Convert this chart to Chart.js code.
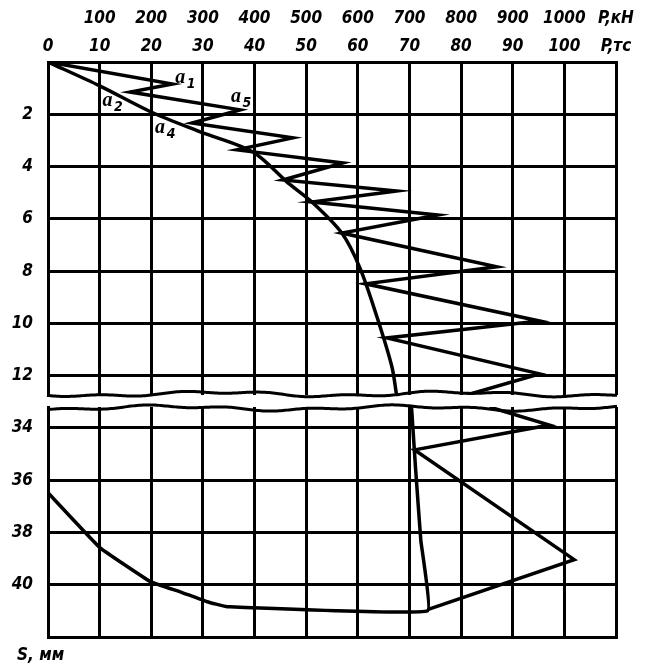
<!DOCTYPE html>
<html>
<head>
<meta charset="utf-8">
<script src="https://cdn.jsdelivr.net/npm/chart.js@4.4.0/dist/chart.umd.min.js"></script>
<style>
  body { margin: 0; background: #fff; width: 652px; height: 672px; position: relative; overflow: hidden; }
  #upper { position: absolute; left: 0; top: 0; }
  #lower { position: absolute; left: 0; top: 400px; }
  .axis-name { position: absolute; font: italic bold 17px 'Liberation Sans Narrow', 'DejaVu Sans Condensed', sans-serif; color: #000; }
</style>
</head>
<body>
<canvas id="upper" width="652" height="400"></canvas>
<canvas id="lower" width="652" height="272"></canvas>
<div class="axis-name" style="left:17px; top:644px;">S, мм</div>

<script>
// top axis: load in тс (kN row is 10x)
const xTicks = [0, 10, 20, 30, 40, 50, 60, 70, 80, 90, 100, 110];
const kNLabels = ['', '100', '200', '300', '400', '500', '600', '700', '800', '900', '1000', 'P,кН'];
const tcLabels = ['0', '10', '20', '30', '40', '50', '60', '70', '80', '90', '100', 'P,тс'];

// S, mm
const upperTicks = [0, 2, 4, 6, 8, 10, 12];
const lowerTicks = [34, 36, 38, 40, 42];

// loading zigzag, upper part
const zigUpperP = [0, 24.1, 15.9, 37.2, 27.9, 47.4, 36.6, 57.1, 45.5, 67.5, 51.1, 75.5, 56.9, 86.9, 61.5, 95.2, 65.6, 95.2, 81.1];
const zigUpperS = [0, 0.84, 1.15, 1.83, 2.33, 2.90, 3.36, 3.86, 4.51, 4.93, 5.35, 5.85, 6.54, 7.83, 8.48, 9.90, 10.55, 11.92, 12.73];
// envelope curve, upper part
const envUpperP = [0, 10.1, 20.4, 29.5, 39.7, 46.3, 51.1, 56.9, 60.4, 63.7, 66.6, 67.5];
const envUpperS = [0, 0.92, 1.95, 2.67, 3.44, 4.59, 5.35, 6.54, 7.87, 9.74, 11.65, 12.73];

// lower part (after the break)
const zigLowerP = [85.5, 97.1, 71.0, 101.9, 73.5];
const zigLowerS = [33.2, 33.89, 34.84, 39.04, 40.95];
const envLowerP = [70.4, 71.2, 72.2, 73.5, 34.7, 30.8, 25.6, 19.8, 10.1, 0];
const envLowerS = [33.2, 35.6, 38.3, 41.0, 40.84, 40.65, 40.27, 39.88, 38.59, 36.48];

// curve marks a1, a5, a2, a4 (P, S)
const markNames = ['1', '5', '2', '4'];
const markP = [25.6, 36.4, 11.5, 21.7];
const markS = [0.61, 1.34, 1.49, 2.52];

const FONT = { family: "'Liberation Sans Narrow', 'DejaVu Sans Condensed', sans-serif", size: 17, style: 'italic', weight: 'bold', lineHeight: 1.65 };

function pts(xs, ys) {
    return xs.map((x, i) => ({ x: x, y: ys[i] }));
}

function lineSet(xs, ys, tension) {
    return {
        data: pts(xs, ys),
        showLine: true,
        borderColor: '#000',
        borderWidth: 3.5,
        pointRadius: 0,
        tension: tension
    };
}

// wavy edge at the break
function wavy(ctx, left, right, y, phase) {
    ctx.save();
    ctx.strokeStyle = '#000';
    ctx.lineWidth = 3;
    ctx.beginPath();
    for (let x = left; x <= right; x += 2) {
        const dy = 2 * Math.sin((x - left) / 38 + phase) + 1.2 * Math.sin((x - left) / 13 + phase * 2);
        if (x === left) ctx.moveTo(x, y + dy); else ctx.lineTo(x, y + dy);
    }
    ctx.stroke();
    ctx.restore();
}

const breakBottom = {
    id: 'breakBottom',
    afterDraw(chart) {
        const a = chart.chartArea;
        wavy(chart.ctx, a.left - 1, a.right + 1, a.bottom - 1, 0.3);
    }
};

const breakTop = {
    id: 'breakTop',
    afterDraw(chart) {
        const a = chart.chartArea;
        wavy(chart.ctx, a.left - 1, a.right + 1, a.top + 1, 1.7);
    }
};

const curveMarks = {
    id: 'curveMarks',
    afterDatasetsDraw(chart) {
        const ctx = chart.ctx;
        const xs = chart.scales.x, ys = chart.scales.y;
        ctx.save();
        ctx.fillStyle = '#000';
        ctx.textBaseline = 'middle';
        markNames.forEach((n, i) => {
            const px = xs.getPixelForValue(markP[i]);
            const py = ys.getPixelForValue(markS[i]);
            ctx.font = "italic bold 20px 'Liberation Serif', serif";
            ctx.textAlign = 'center';
            ctx.fillText('a', px, py);
            ctx.font = "italic bold 14px 'Liberation Sans Narrow', 'DejaVu Sans Condensed', sans-serif";
            ctx.fillText(n, px + 11, py + 6);
        });
        ctx.restore();
    }
};

function noPad(s) {
    s.paddingTop = 0;
    s.paddingBottom = 0;
}

function xScale(position, showTicks) {
    return {
        type: 'linear',
        position: position,
        min: 0,
        max: 110,
        afterBuildTicks: s => { s.ticks = xTicks.map(v => ({ value: v })); },
        afterFit: s => { s.height = showTicks ? 62 : 0; noPad(s); },
        ticks: {
            display: showTicks,
            color: '#000',
            font: FONT,
            padding: 1,
            maxRotation: 0,
            autoSkip: false,
            callback: (v, i) => [kNLabels[i], tcLabels[i]]
        },
        grid: { color: '#000', lineWidth: 3, drawTicks: false },
        border: { color: '#000', width: 3 }
    };
}

function yScale(min, max, ticks, hideFirst) {
    return {
        type: 'linear',
        reverse: true,
        min: min,
        max: max,
        afterBuildTicks: s => { s.ticks = ticks.map(v => ({ value: v })); },
        afterFit: s => { s.width = 48; noPad(s); },
        ticks: {
            color: '#000',
            font: { family: FONT.family, size: 17, style: 'italic', weight: 'bold' },
            padding: 15,
            callback: v => (hideFirst && v === ticks[0]) || v === 42 ? '' : v
        },
        grid: { color: '#000', lineWidth: 3, drawTicks: false },
        border: { color: '#000', width: 3 }
    };
}

const upperChart = new Chart(document.getElementById('upper'), {
    type: 'scatter',
    data: {
        datasets: [
            lineSet(zigUpperP, zigUpperS, 0),
            lineSet(envUpperP, envUpperS, 0.3)
        ]
    },
    options: {
        responsive: false,
        animation: false,
        layout: { padding: { left: 0, right: 36, top: 0, bottom: 5 } },
        plugins: { legend: { display: false }, tooltip: { enabled: false } },
        scales: {
            x: xScale('top', true),
            y: yScale(0, 12.73, upperTicks, true)
        }
    },
    plugins: [breakBottom, curveMarks]
});

const lowerChart = new Chart(document.getElementById('lower'), {
    type: 'scatter',
    data: {
        datasets: [
            lineSet(zigLowerP, zigLowerS, 0),
            lineSet(envLowerP, envLowerS, 0.08)
        ]
    },
    options: {
        responsive: false,
        animation: false,
        layout: { padding: { left: 0, right: 36, top: 7, bottom: 35 } },
        plugins: { legend: { display: false }, tooltip: { enabled: false } },
        scales: {
            x: xScale('bottom', false),
            y: yScale(33.2, 42, lowerTicks, false)
        }
    },
    plugins: [breakTop]
});
</script>
</body>
</html>
